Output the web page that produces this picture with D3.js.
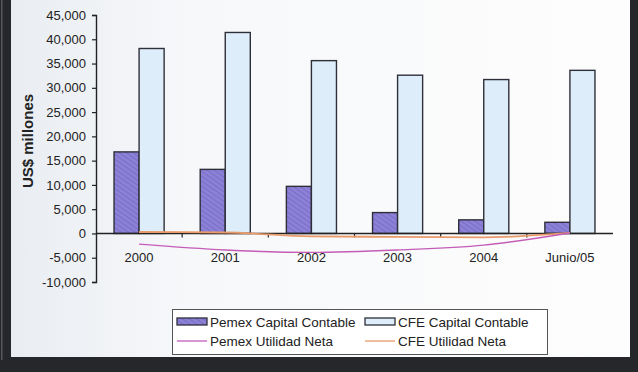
<!DOCTYPE html>
<html>
<head>
<meta charset="utf-8">
<script src="https://cdn.jsdelivr.net/npm/d3@7"></script>
<style>
  body { margin: 0; background: #fff; }
  svg { display: block; font-family: Arial, "Liberation Sans", sans-serif; }
</style>
</head>
<body>
<svg id="chart"></svg>
<script>
/* data */
const categories = ['2000', '2001', '2002', '2003', '2004', 'Junio/05'];
const pemexCapital = [16800, 13200, 9700, 4300, 2800, 2300];
const cfeCapital = [38100, 41400, 35600, 32600, 31700, 33600];
const pemexUtilidad = [-2200, -3400, -3900, -3400, -2400, 100];
const cfeUtilidad = [300, 200, -600, -700, -800, 100];
const yTicks = [-10000, -5000, 0, 5000, 10000, 15000, 20000, 25000, 30000, 35000, 40000, 45000];
const legendNames = ['Pemex Capital Contable', 'CFE Capital Contable', 'Pemex Utilidad Neta', 'CFE Utilidad Neta'];

const width = 638, height = 372;
const plot = {L: 96, R: 613, T: 15, B: 282};

const svg = d3.select('#chart').attr('width', width).attr('height', height);
const defs = svg.append('defs');

/* background, slightly grey on the left */
const grad = defs.append('linearGradient').attr('id', 'bgGrad');
grad.append('stop').attr('offset', '0').attr('stop-color', '#e8ecf1');
grad.append('stop').attr('offset', '0.3').attr('stop-color', '#f7f8fa');
grad.append('stop').attr('offset', '1').attr('stop-color', '#fdfdfd');

/* scanned hatch on the purple bars */
const pat = defs.append('pattern')
  .attr('id', 'hatch')
  .attr('width', 4).attr('height', 4)
  .attr('patternUnits', 'userSpaceOnUse')
  .attr('patternTransform', 'rotate(35)');
pat.append('rect').attr('width', 4).attr('height', 4).attr('fill', '#8d82d8');
pat.append('rect').attr('width', 4).attr('height', 1.3).attr('fill', '#7b70c8');

svg.append('rect').attr('width', width).attr('height', height).attr('fill', 'url(#bgGrad)');

/* dark frame: left, right, bottom */
svg.append('rect').attr('x', 0).attr('y', 0).attr('width', 11).attr('height', height).attr('fill', '#26272b');
svg.append('rect').attr('x', 630).attr('y', 0).attr('width', 8).attr('height', height).attr('fill', '#26272b');
svg.append('rect').attr('x', 0).attr('y', 357).attr('width', width).attr('height', 15).attr('fill', '#26272b');
svg.append('rect').attr('x', 1).attr('y', 0).attr('width', 1.5).attr('height', 360).attr('fill', '#55575c');

/* scales */
const y = d3.scaleLinear().domain([-10000, 45000]).range([plot.B, plot.T]);
const x = d3.scaleBand().domain(categories).range([plot.L, plot.R]);
const xs = d3.scaleBand().domain(['pemex', 'cfe']).range([0, x.bandwidth()])
  .paddingInner(0).paddingOuter(0.72);

/* bars */
const barData = categories.map((c, i) => [
  {cat: c, key: 'pemex', v: pemexCapital[i]},
  {cat: c, key: 'cfe', v: cfeCapital[i]}
]).flat();

svg.append('g').selectAll('rect')
  .data(barData)
  .join('rect')
  .attr('x', d => x(d.cat) + xs(d.key))
  .attr('y', d => y(d.v))
  .attr('width', xs.bandwidth())
  .attr('height', d => y(0) - y(d.v))
  .attr('fill', d => d.key === 'pemex' ? 'url(#hatch)' : '#ddeefa')
  .attr('stroke', '#2f2f3a')
  .attr('stroke-width', 1.4);

/* y axis, plain hyphen for negatives like the original */
const fmt = d => d3.format(',')(d).replace('\u2212', '-');
const yAxis = d3.axisLeft(y).tickValues(yTicks).tickSize(4).tickFormat(fmt);
const gy = svg.append('g').attr('transform', `translate(${plot.L},0)`).call(yAxis);
gy.select('.domain').attr('stroke', '#222').attr('stroke-width', 1.4);
gy.selectAll('.tick line').attr('stroke', '#222').attr('stroke-width', 1.2);
gy.selectAll('.tick text')
  .attr('x', -10)
  .attr('fill', '#222')
  .style('font-size', '13px');

/* x axis on zero line, ticks between categories */
const gx = svg.append('g').attr('transform', `translate(0,${y(0)})`);
gx.append('line')
  .attr('x1', plot.L).attr('x2', plot.R)
  .attr('stroke', '#222').attr('stroke-width', 1.4);
gx.selectAll('line.sep')
  .data(categories.slice(1))
  .join('line')
  .attr('class', 'sep')
  .attr('x1', d => x(d)).attr('x2', d => x(d))
  .attr('y1', 0).attr('y2', 4)
  .attr('stroke', '#222').attr('stroke-width', 1.2);
gx.selectAll('text')
  .data(categories)
  .join('text')
  .attr('x', d => x(d) + x.bandwidth() / 2)
  .attr('y', 29)
  .attr('text-anchor', 'middle')
  .attr('fill', '#222')
  .style('font-size', '13px')
  .text(d => d);

/* lines */
const line = d3.line()
  .x((d, i) => x(categories[i]) + x.bandwidth() / 2)
  .y(d => y(d))
  .curve(d3.curveMonotoneX);

svg.append('path').datum(cfeUtilidad)
  .attr('d', line)
  .attr('fill', 'none')
  .attr('stroke', '#e89a6a')
  .attr('stroke-width', 1.8);
svg.append('path').datum(pemexUtilidad)
  .attr('d', line)
  .attr('fill', 'none')
  .attr('stroke', '#c45cb8')
  .attr('stroke-width', 1.4);

/* y label */
svg.append('text')
  .attr('transform', `translate(33,141) rotate(-90)`)
  .attr('text-anchor', 'middle')
  .attr('fill', '#222')
  .style('font-size', '15px')
  .style('font-weight', 'bold')
  .text('US$ millones');

/* legend */
const lg = svg.append('g');
lg.append('rect')
  .attr('x', 172.5).attr('y', 309.5).attr('width', 375).attr('height', 45)
  .attr('fill', '#fff').attr('stroke', '#555').attr('stroke-width', 1);

const legendPos = [
  {x: 177, y: 322, type: 'bar', fill: 'url(#hatch)'},
  {x: 365, y: 322, type: 'bar', fill: '#ddeefa'},
  {x: 177, y: 341, type: 'line', stroke: '#c45cb8'},
  {x: 365, y: 341, type: 'line', stroke: '#e89a6a'}
];
legendNames.forEach((name, i) => {
  const p = legendPos[i];
  if (p.type === 'bar') {
    lg.append('rect')
      .attr('x', p.x).attr('y', p.y - 4).attr('width', 30).attr('height', 7)
      .attr('fill', p.fill).attr('stroke', '#2f2f3a').attr('stroke-width', 1.3);
  } else {
    lg.append('line')
      .attr('x1', p.x).attr('x2', p.x + 30).attr('y1', p.y).attr('y2', p.y)
      .attr('stroke', p.stroke).attr('stroke-width', 1.3);
  }
  lg.append('text')
    .attr('x', p.x + 33).attr('y', p.y + 5)
    .attr('fill', '#222')
    .style('font-size', '13.5px')
    .text(name);
});
</script>
</body>
</html>
